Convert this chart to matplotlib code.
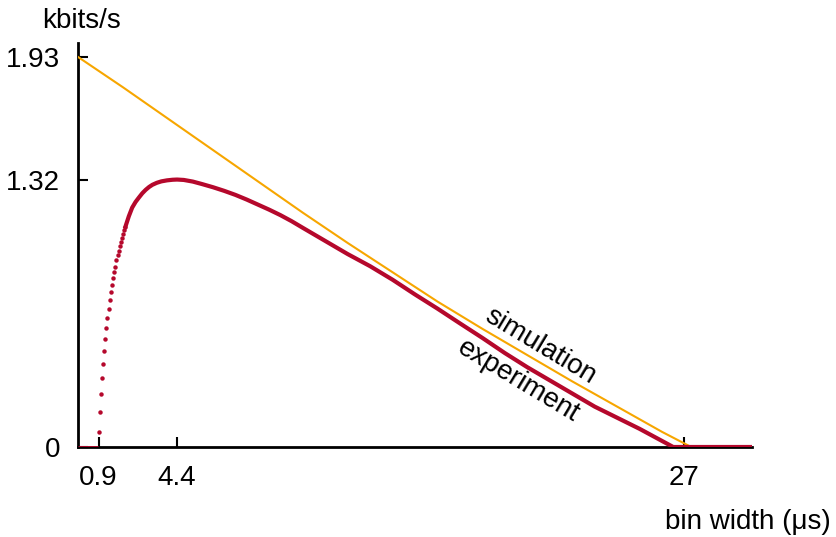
import numpy as np
import matplotlib
matplotlib.use("Agg")
import matplotlib.pyplot as plt

plt.rcParams['font.family'] = ['Liberation Sans', 'DejaVu Sans']

# simulation curve
sim_x = [0, 2, 4, 6, 8, 10, 12, 14, 16, 18, 20, 22, 24, 26, 27.3]
sim_y = [1.93, 1.78, 1.625, 1.47, 1.315, 1.16, 1.01, 0.865, 0.72, 0.585,
         0.455, 0.325, 0.2, 0.075, 0.0]

# experiment: separate dots on the steep rise
dot_x = [0.90, 0.95, 1.00, 1.05, 1.10, 1.15, 1.20, 1.25, 1.30, 1.35, 1.40,
         1.45, 1.50, 1.55, 1.60, 1.65, 1.70, 1.75, 1.80, 1.85, 1.90, 1.95,
         2.00, 2.05, 2.10]
dot_y = [0.076, 0.175, 0.262, 0.342, 0.411, 0.475, 0.536, 0.589, 0.639,
         0.683, 0.728, 0.769, 0.802, 0.835, 0.865, 0.893, 0.926, 0.950,
         0.972, 0.995, 1.016, 1.033, 1.053, 1.074, 1.091]

# experiment: dense part (looks like a solid line)
exp_x = [2.1, 2.25, 2.4, 2.55, 2.7, 2.85, 3.0, 3.15, 3.3, 3.5, 3.7, 3.95,
         4.2, 4.4, 4.7, 5.1, 5.5, 6.0, 6.5, 7.0, 7.5, 8.0, 8.5, 9.0, 9.5,
         10, 11, 12, 13, 14, 15, 16, 17, 18, 19, 20, 21, 22, 23, 24, 25,
         25.5, 26, 26.5, 30]
exp_y = [1.091, 1.142, 1.185, 1.213, 1.235, 1.256, 1.273, 1.287, 1.298,
         1.308, 1.315, 1.320, 1.323, 1.324, 1.322, 1.314, 1.302, 1.286,
         1.268, 1.248, 1.225, 1.200, 1.175, 1.148, 1.118, 1.085, 1.02,
         0.955, 0.895, 0.828, 0.755, 0.685, 0.612, 0.54, 0.465, 0.395,
         0.33, 0.265, 0.2, 0.145, 0.09, 0.06, 0.03, 0.0, 0.0]

# zero before the first photon
zero_x = [0, 0.88]
zero_y = [0, 0]

xticks = [0.9, 4.4, 27]
xlabels = ['0.9', '4.4', '27']
yticks = [0, 1.32, 1.93]
ylabels = ['0', '1.32', '1.93']

red = '#b5082c'
orange = '#f7a600'

fig = plt.figure(figsize=(8.37, 5.37), dpi=100)
ax = fig.add_axes([78.3 / 837, 90 / 537, 673.5 / 837, 404 / 537])

ax.plot(zero_x, zero_y, color=red, lw=2, solid_capstyle='butt', zorder=3)
ax.plot(dot_x, dot_y, 'o', color=red, ms=3.2, mew=0, zorder=3)
ax.plot(exp_x, exp_y, color=red, lw=3, zorder=3)
ax.plot(sim_x, sim_y, color=orange, lw=1.5, zorder=2)

ax.set_xlim(0, 30)
ax.set_ylim(0, 2.0)
ax.set_xticks(xticks)
ax.set_xticklabels(xlabels)
ax.set_yticks(yticks)
ax.set_yticklabels(ylabels)
ax.tick_params(direction='in', length=7, width=1.5, labelsize=20, pad=13)

for s in ['top', 'right']:
    ax.spines[s].set_visible(False)
for s in ['left', 'bottom']:
    ax.spines[s].set_linewidth(2)
    ax.spines[s].set_zorder(1)

# curve labels, rotated along the lines
fig.text(540 / 837, 1 - 346 / 537, 'simulation', fontsize=20, rotation=-31,
         ha='center', va='center', rotation_mode='anchor')
fig.text(518 / 837, 1 - 381 / 537, 'experiment', fontsize=20, rotation=-31,
         ha='center', va='center', rotation_mode='anchor')

fig.text(82 / 837, 1 - 21 / 537, 'kbits/s', fontsize=20, ha='center', va='center')
fig.text(748 / 837, 1 - 522 / 537, 'bin width (μs)', fontsize=20,
         ha='center', va='center')

fig.savefig('out.png', dpi=100)
